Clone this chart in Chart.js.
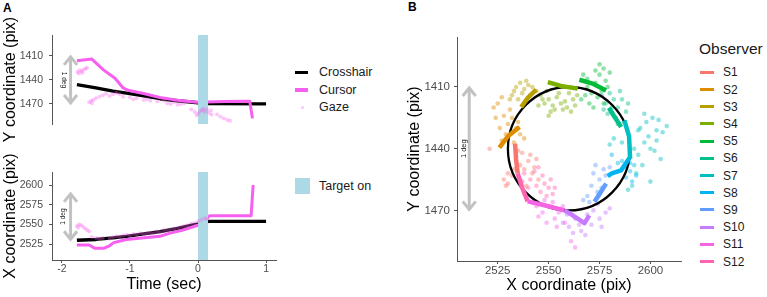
<!DOCTYPE html>
<html>
<head>
<meta charset="utf-8">
<script src="https://cdn.jsdelivr.net/npm/chart.js@4.4.0/dist/chart.umd.min.js"></script>
<style>
body { margin: 0; width: 767px; height: 297px; position: relative; background: #fff; overflow: hidden;
       font-family: "Liberation Sans", Arial, sans-serif; }
canvas { position: absolute; }
.tag { position: absolute; font-weight: bold; font-size: 12px; color: #000; }
.txt { position: absolute; color: #1a1a1a; white-space: nowrap; }
.key { position: absolute; }
</style>
</head>
<body>
<div class="tag" style="left:3px;top:1px">A</div>
<div class="tag" style="left:408px;top:0px">B</div>
<canvas id="panelY" width="280" height="145" style="left:0;top:0"></canvas>
<canvas id="panelX" width="280" height="157" style="left:0;top:140px"></canvas>
<canvas id="panelXY" width="305" height="297" style="left:380px;top:0"></canvas>
<div id="legends"></div>
<script>
const FONT = '"Liberation Sans", Arial, sans-serif';

// ---- panel A: time courses, [time (sec), pix] ----
const timeTicks = [-2, -1, 0, 1];
const yTicksA = [1410, 1440, 1470];
const xTicksA = [2525, 2550, 2575, 2600];
const targetOn = [0, 0.15];

const crosshairY = [[-1.78,1446],[-1.5,1450],[-1.25,1454],[-1.05,1456.5],[-0.8,1460],[-0.56,1463.5],
  [-0.3,1466],[0,1468.5],[0.15,1469.5],[1.0,1470]];
const cursorY = [[-1.78,1416],[-1.56,1414],[-1.39,1427.5],[-1.22,1438],[-1.1,1450],[-1.03,1453],
  [-0.8,1457],[-0.56,1462],[-0.3,1465.5],[-0.02,1468],[0.4,1467],[0.76,1466.5],[0.8,1488]];
const gazeY = [[-1.77,1430],[-1.74,1428],[-1.71,1429],[-1.68,1427],[-1.65,1426],[-1.63,1425],[-1.75,1432],[-1.7,1431],
  [-1.6,1468],[-1.57,1466],[-1.54,1465],[-1.5,1463],[-1.56,1469],
  [-1.45,1461],[-1.4,1459],[-1.35,1457],[-1.3,1460],[-1.25,1458],[-1.2,1456],[-1.15,1458],
  [-1.1,1461],[-1.0,1462],[-0.95,1464],[-0.9,1463],[-0.8,1465],[-0.75,1464],[-0.7,1466],[-0.6,1467],
  [-0.5,1466],[-0.45,1469],[-0.4,1470],[-0.35,1468],[-0.3,1471],[-0.25,1470],[-0.2,1469],
  [-0.1,1477],[-0.05,1480],[0,1482],[0.03,1479],[0.06,1478],[0.1,1480],[0.13,1477],[0.16,1481],
  [-0.02,1484],[0.08,1476],[0.19,1478],[0.2,1483],
  [0.28,1483],[0.33,1486],[0.38,1488],[0.43,1490],[0.47,1491]];

const crosshairX = [[-1.78,2530],[-1.5,2531],[-1.25,2533],[-1.05,2535],[-0.8,2538],[-0.56,2541],
  [-0.3,2545],[-0.07,2549.5],[0.05,2551],[0.15,2554],[1.0,2554]];
const cursorX = [[-1.78,2524],[-1.6,2524],[-1.52,2520],[-1.38,2520],[-1.3,2523],[-1.24,2527],[-1.05,2531],
  [-0.56,2535],[-0.41,2539],[-0.22,2543],[0.03,2550],[0.1,2555],[0.17,2561],[0.78,2561],[0.81,2600]];
const gazeX = [[-1.78,2548],[-1.75,2550],[-1.72,2549],[-1.69,2547],[-1.66,2545],[-1.63,2543],[-1.6,2541],[-1.76,2546],
  [-1.56,2534],[-1.5,2533],[-1.45,2532],[-1.4,2533],
  [-1.3,2532],[-1.25,2534],[-1.2,2535],[-1.15,2534],[-1.1,2536],[-1.05,2537],[-1.0,2536],[-0.95,2538],
  [-0.9,2537],[-0.85,2539],[-0.8,2538],[-0.75,2539],[-0.7,2540],[-0.65,2539],[-0.6,2541],[-0.55,2540],
  [-0.5,2543],[-0.45,2542],[-0.4,2544],[-0.35,2545],[-0.3,2546],[-0.25,2547],[-0.2,2548],[-0.15,2549],
  [-0.1,2551],[-0.05,2552],[0,2554],[0.05,2556],[0.1,2558],[0.13,2557]];

// "1 deg" arrows: [x position, from, to]
const degArrowY = [-1.873, 1410, 1470];
const degArrowX = [-1.873, 2530, 2590];

// ---- panel B: endpoints on the circle ----
const observers = ['S1','S2','S3','S4','S5','S6','S7','S8','S9','S10','S11','S12'];
const observerColors = ['#F8766D','#DE8C00','#B79F00','#7CAE00','#00BA38','#00C08B',
  '#00BFC4','#00B4F0','#619CFF','#C77CFF','#F564E3','#FF64B0'];
const xTicksB = [2525, 2550, 2575, 2600];
const yTicksB = [1410, 1440, 1470];
const circleCenter = [2560, 1440];
const circleRadius = 30;
const degArrowB = [2511, 1410, 1470];

const observerPaths = [
  [[2533.5,1437.5],[2534,1445],[2534.8,1452]],
  [[2525.8,1439.5],[2530,1434],[2535.7,1429.5]],
  [[2536.5,1419.8],[2540,1415],[2543.9,1411.3]],
  [[2549.6,1407.6],[2556,1409.5],[2564.3,1410.8]],
  [[2565.1,1406.5],[2572,1408.5],[2578.2,1411.7]],
  [[2579.6,1420.1],[2582,1424],[2585.6,1429.5]],
  [[2587.2,1426.2],[2589.5,1434],[2590,1444.9]],
  [[2589.7,1444.5],[2585.6,1450.5],[2581,1452],[2579,1453.3]],
  [[2578.2,1457],[2575,1462],[2572.5,1465.8]],
  [[2557.8,1470],[2562,1472.5],[2567.6,1476.2],[2570,1472.4]],
  [[2539.7,1465.6],[2548,1467.5],[2557.8,1470]],
  [[2534.8,1452],[2537,1459],[2539.7,1465.6]]
];
const observerGaze = [
  [[2521,1440],[2528,1455],[2530,1457],[2532,1453],[2536,1448],[2538,1450],[2540,1446],[2542,1452],[2539,1458],[2534,1444],
   [2545,1455],[2537,1442],[2529,1458],[2543,1449],[2536,1455],[2541,1443],[2530,1452],[2533,1450],[2535,1441],[2544,1445]],
  [[2523,1420],[2525,1418],[2527,1415],[2528,1424],[2530,1428],[2532,1425],[2534,1430],[2536,1433],[2529,1433],[2527,1436],
   [2533,1437],[2531,1421],[2535,1427],[2538,1435],[2526,1430],[2524,1425]],
  [[2532,1414],[2534,1410],[2536,1408],[2538,1411],[2540,1409],[2537,1413],[2542,1410],[2544,1412],[2535,1416],[2541,1414],
   [2539,1407],[2533,1412],[2531,1416]],
  [[2546,1414],[2548,1418],[2550,1416],[2552,1419],[2554,1415],[2556,1418],[2558,1417],[2560,1413],[2562,1416],[2553,1421],
   [2549,1412],[2557,1421],[2545,1419],[2551,1422],[2559,1420],[2563,1419],[2555,1413],[2547,1416],[2561,1422],[2564,1414],[2550,1424]],
  [[2567,1404],[2569,1410],[2571,1413],[2573,1408],[2575,1404],[2577,1401],[2578,1407],[2574,1415],[2570,1418],[2576,1412],
   [2568,1414],[2572,1420],[2579,1410],[2580,1403],[2566,1416],[2575,1399],[2577,1418],[2573,1402],[2569,1406]],
  [[2576,1414],[2578,1418],[2580,1413],[2582,1416],[2584,1420],[2586,1416],[2588,1422],[2583,1425],[2581,1420],[2585,1412],
   [2579,1423],[2587,1427],[2589,1418],[2577,1421],[2584,1428]],
  [[2595,1430],[2598,1427],[2601,1425],[2604,1426],[2606,1432],[2603,1436],[2600,1440],[2597,1437],[2594,1443],[2592,1440],
   [2596,1448],[2599,1434],[2602,1441],[2605,1445],[2590,1447],[2593,1452],[2591,1458],[2589,1460],[2600,1456],[2594,1431],
   [2608,1429],[2586,1437],[2580,1438],[2582,1435],[2597,1423],[2603,1431]],
  [[2587,1449],[2590,1451],[2592,1448],[2588,1454],[2593,1453],[2586,1446],[2591,1456],[2581,1443],[2584,1447]],
  [[2572,1452],[2575,1455],[2577,1450],[2571,1458],[2574,1461],[2569,1463],[2576,1459],[2578,1453],[2570,1466],[2573,1448],
   [2567,1465],[2580,1449]],
  [[2557,1476],[2560,1478],[2563,1474],[2566,1480],[2569,1472],[2572,1470],[2575,1474],[2578,1471],[2580,1469],[2571,1477],
   [2568,1482],[2562,1481],[2574,1467],[2559,1472],[2576,1478],[2565,1477]],
  [[2544,1468],[2547,1471],[2550,1468],[2553,1474],[2555,1471],[2558,1476],[2548,1465],[2552,1466],[2545,1473],[2557,1468],
   [2561,1485],[2563,1488],[2549,1476],[2542,1466],[2554,1478]],
  [[2538,1452],[2541,1455],[2544,1458],[2546,1461],[2548,1457],[2550,1459],[2552,1462],[2543,1451],[2540,1459],[2547,1453],
   [2551,1455],[2537,1456],[2549,1463],[2545,1449],[2553,1459]]
];

const pts = arr => arr.map(([x, y]) => ({x, y}));
const CURSOR = '#F65FF0';
const GAZE = 'rgba(245,95,235,0.35)';
const TARGET = '#ADD8E6';

Chart.defaults.font.family = FONT;

function axis(min, max, tickVals, size, pad, extra) {
  return Object.assign({
    type: 'linear', min, max,
    grid: {drawOnChartArea: false, drawTicks: true, tickLength: 3, color: '#555', lineWidth: 1},
    border: {display: true, color: '#555', width: 1},
    ticks: {color: '#4d4d4d', padding: pad, font: {size, family: FONT}, callback: v => String(v)},
    afterBuildTicks: s => { s.ticks = tickVals.map(v => ({value: v})); }
  }, extra);
}

function arrowPlugin(spec, rot, dx, fontSize) {
  return {
    id: 'degArrow',
    afterDatasetsDraw(chart) {
      const {ctx, scales: {x, y}} = chart;
      const px = x.getPixelForValue(spec[0]);
      const a = y.getPixelForValue(spec[1]), b = y.getPixelForValue(spec[2]);
      const top = Math.min(a, b), bot = Math.max(a, b);
      ctx.save();
      ctx.strokeStyle = '#c2c2c2';
      ctx.lineWidth = 3;
      ctx.beginPath(); ctx.moveTo(px, top + 1); ctx.lineTo(px, bot - 1); ctx.stroke();
      ctx.beginPath(); ctx.moveTo(px - 6.5, top + 9); ctx.lineTo(px, top + 1); ctx.lineTo(px + 6.5, top + 9); ctx.stroke();
      ctx.beginPath(); ctx.moveTo(px - 6.5, bot - 9); ctx.lineTo(px, bot - 1); ctx.lineTo(px + 6.5, bot - 9); ctx.stroke();
      ctx.translate(px + dx, (top + bot) / 2);
      ctx.rotate(rot);
      ctx.fillStyle = '#1a1a1a';
      ctx.font = fontSize + 'px ' + FONT;
      ctx.textAlign = 'center';
      ctx.textBaseline = 'middle';
      ctx.fillText('1 deg', 0, 0);
      ctx.restore();
    }
  };
}

function timePanel(id, cross, cursor, gaze, yMin, yMax, yTicks, reverse, showTime, arrow, rot) {
  const xScale = axis(-2.146, 1.146, timeTicks, 10.5, 0, {
    display: showTime,
    title: {display: true, text: 'Time (sec)', color: '#000', font: {size: 16, family: FONT}, padding: {top: 0, bottom: 2.4}},
    afterFit: s => { s.height = showTime ? 37 : 0; }
  });
  const yScale = axis(yMin, yMax, yTicks, 10.5, 6, {
    reverse,
    title: {display: true, text: (reverse ? 'Y' : 'X') + ' coordinate (pix)', color: '#000',
            font: {size: 16, family: FONT}, padding: {top: 1.4, bottom: 0}},
    afterFit: s => { s.width = 52; }
  });
  return new Chart(document.getElementById(id), {
    type: 'line',
    data: {
      datasets: [
        {data: pts(gaze), showLine: false, pointRadius: 2, pointBackgroundColor: GAZE, pointBorderWidth: 0, order: 0},
        {data: [{x: targetOn[0], y: yMin}, {x: targetOn[1], y: yMin}], fill: {value: yMax}, backgroundColor: TARGET,
         borderWidth: 0, pointRadius: 0, order: 1},
        {data: pts(cursor), borderColor: CURSOR, borderWidth: 3, pointRadius: 0, order: 2},
        {data: pts(cross), borderColor: '#000', borderWidth: 3.3, pointRadius: 0, order: 3}
      ]
    },
    options: {
      responsive: false, animation: false, events: [],
      layout: {padding: showTime ? {top: 32, right: 3, bottom: 0, left: 0} : {top: 35, right: 3, bottom: 21, left: 0}},
      elements: {line: {tension: 0, borderJoinStyle: 'round'}},
      plugins: {legend: {display: false}, tooltip: {enabled: false}},
      scales: {x: xScale, y: yScale}
    },
    plugins: [arrowPlugin(arrow, rot, -7, 6.5)]
  });
}

timePanel('panelY', crosshairY, cursorY, gazeY, 1384, 1495, yTicksA, true, false, degArrowY, Math.PI / 2);
timePanel('panelX', crosshairX, cursorX, gazeX, 2505, 2616.5, xTicksA, false, true, degArrowX, -Math.PI / 2);

// panel B
const circlePlugin = {
  id: 'refCircle',
  beforeDatasetDraw(chart, args) {
    if (args.index !== observers.length - 1) return;
    const {ctx, scales: {x, y}} = chart;
    const cx = x.getPixelForValue(circleCenter[0]), cy = y.getPixelForValue(circleCenter[1]);
    const rx = Math.abs(x.getPixelForValue(circleCenter[0] + circleRadius) - cx);
    const ry = Math.abs(y.getPixelForValue(circleCenter[1] + circleRadius) - cy);
    ctx.save();
    ctx.beginPath();
    ctx.ellipse(cx, cy, rx, ry, 0, 0, Math.PI * 2);
    ctx.lineWidth = 2.3;
    ctx.strokeStyle = '#000';
    ctx.stroke();
    ctx.restore();
  }
};

const pathSets = observerPaths.map((p, i) => ({
  data: pts(p), borderColor: observerColors[i], borderWidth: 4.5, pointRadius: 0, borderCapStyle: 'butt'
}));
const gazeSets = observerGaze.map((p, i) => ({
  data: pts(p), showLine: false, pointRadius: 2.3, pointBorderWidth: 0,
  pointBackgroundColor: observerColors[i] + '70'
}));

new Chart(document.getElementById('panelXY'), {
  type: 'line',
  data: {datasets: pathSets.concat(gazeSets)},
  options: {
    responsive: false, animation: false, events: [],
    layout: {padding: {top: 37, right: 3, bottom: 0, left: 0}},
    elements: {line: {tension: 0, borderJoinStyle: 'round'}},
    plugins: {legend: {display: false}, tooltip: {enabled: false}},
    scales: {
      x: axis(2505, 2615, xTicksB, 11.5, 0, {
        title: {display: true, text: 'X coordinate (pix)', color: '#000', font: {size: 16, family: FONT}, padding: {top: 0, bottom: 1.4}},
        afterFit: s => { s.height = 36; }
      }),
      y: axis(1385.7, 1494.6, yTicksB, 11.5, 4, {
        reverse: true,
        title: {display: true, text: 'Y coordinate (pix)', color: '#000', font: {size: 16, family: FONT}, padding: {top: 25.4, bottom: 0}},
        afterFit: s => { s.width = 77; }
      })
    }
  },
  plugins: [circlePlugin, arrowPlugin(degArrowB, -Math.PI / 2, -5.5, 7.5)]
});

// legends (HTML)
const legendA = [
  {label: 'Crosshair', y: 72.3, kind: 'line', color: '#000'},
  {label: 'Cursor', y: 90, kind: 'line', color: CURSOR},
  {label: 'Gaze', y: 107.3, kind: 'dot', color: GAZE},
  {label: 'Target on', y: 186, kind: 'box', color: TARGET}
];
const box = document.getElementById('legends');
function add(cls, style, text) {
  const d = document.createElement('div');
  d.className = cls;
  d.style.cssText = style;
  if (text) d.textContent = text;
  box.appendChild(d);
}
legendA.forEach(it => {
  if (it.kind === 'line') add('key', `left:295px;top:${it.y - 1.75}px;width:13px;height:3.5px;background:${it.color}`);
  if (it.kind === 'dot') add('key', `left:300.5px;top:${it.y - 1.5}px;width:3px;height:3px;border-radius:50%;background:${it.color}`);
  if (it.kind === 'box') add('key', `left:295px;top:${it.y - 8}px;width:15px;height:16px;background:${it.color}`);
  add('txt', `left:319px;top:${it.y - 8}px;font-size:12.5px;line-height:16px`, it.label);
});
add('txt', 'left:699px;top:40px;font-size:15.5px;line-height:18px', 'Observer');
observers.forEach((s, i) => {
  const y = 72.3 + i * 17.2;
  add('key', `left:700px;top:${y - 1.5}px;width:14px;height:3px;background:${observerColors[i]}`);
  add('txt', `left:723px;top:${y - 8}px;font-size:12px;line-height:16px`, s);
});
</script>
</body>
</html>
